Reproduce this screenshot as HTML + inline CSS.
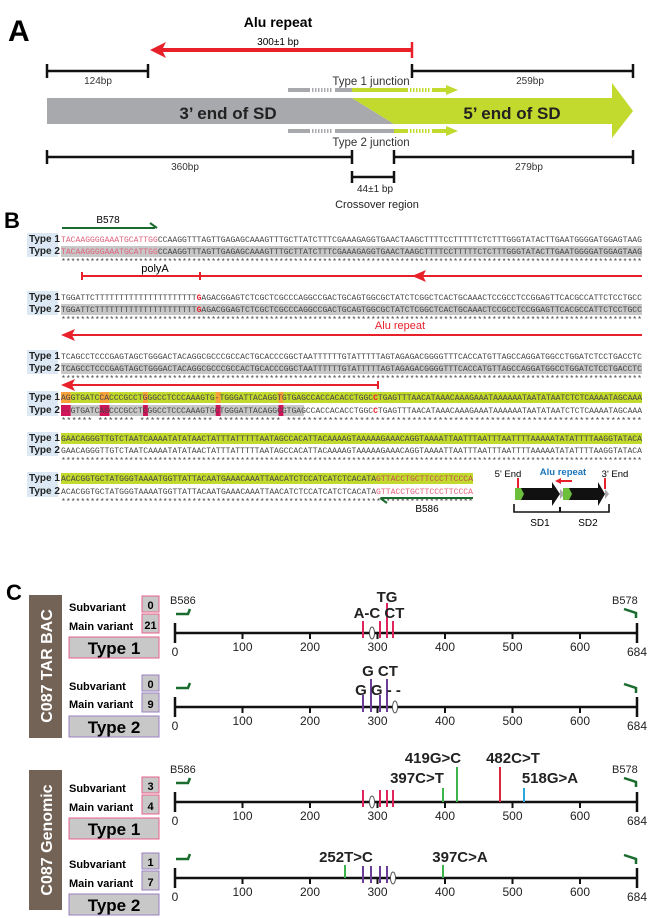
<!DOCTYPE html>
<html><head><meta charset="utf-8"><style>
html,body{margin:0;padding:0;background:#fff}
svg{display:block}
.s{font-family:"Liberation Mono",monospace;font-size:8.3px;fill:#444}
.lb{font-family:"Liberation Sans",sans-serif;font-size:10px;font-weight:bold;fill:#222}
.t{font-family:"Liberation Sans",sans-serif}
</style></head><body>
<svg width="650" height="918" viewBox="0 0 650 918" xmlns="http://www.w3.org/2000/svg">
<!-- PANEL A -->
<text x="8" y="41" class="t" font-size="30" font-weight="bold">A</text>
<text x="278" y="27" class="t" font-size="14" font-weight="bold" text-anchor="middle">Alu repeat</text>
<text x="278" y="45" class="t" font-size="10" text-anchor="middle">300±1 bp</text>
<line x1="160" y1="50" x2="412" y2="50" stroke="#e8202a" stroke-width="4"/>
<polygon points="150,50 166,42 162,50 166,58" fill="#e8202a"/>
<line x1="412" y1="42" x2="412" y2="58" stroke="#e8202a" stroke-width="2.5"/>
<g stroke="#111" stroke-width="2.5">
<line x1="47" y1="71" x2="148" y2="71"/><line x1="47" y1="64" x2="47" y2="78"/><line x1="148" y1="64" x2="148" y2="78"/>
<line x1="412" y1="71" x2="633" y2="71"/><line x1="412" y1="64" x2="412" y2="78"/><line x1="633" y1="64" x2="633" y2="78"/>
<line x1="47" y1="157" x2="352" y2="157"/><line x1="47" y1="150" x2="47" y2="164"/><line x1="352" y1="150" x2="352" y2="164"/>
<line x1="394" y1="157" x2="633" y2="157"/><line x1="394" y1="150" x2="394" y2="164"/><line x1="633" y1="150" x2="633" y2="164"/>
<line x1="352" y1="177" x2="394" y2="177"/><line x1="352" y1="171" x2="352" y2="183"/><line x1="394" y1="171" x2="394" y2="183"/>
</g>
<text x="98" y="84" class="t" font-size="10" text-anchor="middle" fill="#333">124bp</text>
<text x="530" y="84" class="t" font-size="10" text-anchor="middle" fill="#333">259bp</text>
<text x="185" y="170" class="t" font-size="10" text-anchor="middle" fill="#333">360bp</text>
<text x="529" y="170" class="t" font-size="10" text-anchor="middle" fill="#333">279bp</text>
<text x="375" y="192" class="t" font-size="10" text-anchor="middle" fill="#222">44±1 bp</text>
<text x="377" y="208" class="t" font-size="11" text-anchor="middle" fill="#222">Crossover region</text>
<g stroke-width="4">
<line x1="288" y1="90" x2="310" y2="90" stroke="#a7a9ac"/><line x1="312" y1="90" x2="333" y2="90" stroke="#a7a9ac" stroke-dasharray="1.5 1.5"/><line x1="335" y1="90" x2="352" y2="90" stroke="#a7a9ac"/>
<line x1="352" y1="90" x2="408" y2="90" stroke="#c2d92d"/><line x1="410" y1="90" x2="430" y2="90" stroke="#c2d92d" stroke-dasharray="1.5 1.5"/><line x1="432" y1="90" x2="450" y2="90" stroke="#c2d92d"/>
<line x1="288" y1="131" x2="310" y2="131" stroke="#a7a9ac"/><line x1="312" y1="131" x2="333" y2="131" stroke="#a7a9ac" stroke-dasharray="1.5 1.5"/><line x1="335" y1="131" x2="394" y2="131" stroke="#a7a9ac"/>
<line x1="394" y1="131" x2="408" y2="131" stroke="#c2d92d"/><line x1="410" y1="131" x2="430" y2="131" stroke="#c2d92d" stroke-dasharray="1.5 1.5"/><line x1="432" y1="131" x2="450" y2="131" stroke="#c2d92d"/>
</g>
<polygon points="446,85 458,90 446,95" fill="#c2d92d"/>
<polygon points="446,126 458,131 446,136" fill="#c2d92d"/>
<text x="371" y="85" class="t" font-size="11.5" text-anchor="middle" fill="#333">Type 1 junction</text>
<text x="371" y="146" class="t" font-size="11.5" text-anchor="middle" fill="#333">Type 2 junction</text>
<polygon points="47,98 352,98 394,124 47,124" fill="#a7a9ac"/>
<polygon points="352,98 612,98 612,83 633,111 612,138 612,124 394,124" fill="#c2d92d"/>
<text x="228" y="119" class="t" font-size="17" font-weight="bold" text-anchor="middle" fill="#222">3’ end of SD</text>
<text x="512" y="119" class="t" font-size="17" font-weight="bold" text-anchor="middle" fill="#222">5’ end of SD</text>

<!-- PANEL B -->
<text x="4" y="228" class="t" font-size="22" font-weight="bold">B</text>
<line x1="62" y1="228" x2="155" y2="228" stroke="#1a6b2e" stroke-width="2"/>
<polyline points="150,223 157,228" stroke="#1a6b2e" stroke-width="2" fill="none"/>
<text x="108" y="223" class="t" font-size="10" text-anchor="middle">B578</text>
<g fill="#dce9f5">
<rect x="27" y="233" width="31" height="24"/><rect x="27" y="291" width="31" height="24"/><rect x="27" y="350" width="31" height="24"/>
<rect x="27" y="391" width="31" height="25"/><rect x="27" y="432" width="31" height="24"/><rect x="27" y="472" width="31" height="25"/>
</g>
<g class="lb">
<text x="29" y="242">Type 1</text><text x="29" y="254">Type 2</text>
<text x="29" y="300">Type 1</text><text x="29" y="312">Type 2</text>
<text x="29" y="359">Type 1</text><text x="29" y="371">Type 2</text>
<text x="29" y="400">Type 1</text><text x="29" y="413">Type 2</text>
<text x="29" y="441">Type 1</text><text x="29" y="453">Type 2</text>
<text x="29" y="481">Type 1</text><text x="29" y="494">Type 2</text>
</g>
<g fill="#c8c8c8">
<rect x="61" y="246" width="581" height="11"/>
<rect x="61" y="304" width="581" height="11"/>
<rect x="61" y="363" width="581" height="11"/>
<rect x="61" y="405" width="243" height="11"/>
</g>
<g fill="#c2d92d">
<rect x="61" y="392" width="581" height="11"/>
<rect x="61" y="433" width="581" height="11"/>
<rect x="61" y="473" width="412" height="11"/>
</g>
<g fill="#f7a23b">
<rect x="61" y="392" width="9.7" height="11"/><rect x="99.7" y="392" width="9.7" height="11"/><rect x="143" y="392" width="4.9" height="11"/><rect x="215.7" y="392" width="4.9" height="11"/><rect x="278.5" y="392" width="4.9" height="11"/>
</g>
<g fill="#d0145a">
<rect x="61" y="405" width="9.7" height="11"/><rect x="99.7" y="405" width="9.7" height="11"/><rect x="143" y="405" width="4.9" height="11"/><rect x="215.7" y="405" width="4.9" height="11"/><rect x="278.5" y="405" width="4.9" height="11"/>
</g>
<g class="s">
<text x="61" y="242" textLength="581" lengthAdjust="spacingAndGlyphs"><tspan fill="#e0607a">TACAAGGGGAAATGCATTGG</tspan>CCAAGGTTTAGTTGAGAGCAAAGTTTGCTTATCTTTCGAAAGAGGTGAACTAAGCTTTTCCTTTTTCTCTTTGGGTATACTTGAATGGGGATGGAGTAAG</text>
<text x="61" y="254" textLength="581" lengthAdjust="spacingAndGlyphs"><tspan fill="#e0607a">TACAAGGGGAAATGCATTGG</tspan>CCAAGGTTTAGTTGAGAGCAAAGTTTGCTTATCTTTCGAAAGAGGTGAACTAAGCTTTTCCTTTTTCTCTTTGGGTATACTTGAATGGGGATGGAGTAAG</text>
<text x="61" y="264" textLength="581" lengthAdjust="spacingAndGlyphs">************************************************************************************************************************</text>
<text x="61" y="300" textLength="581" lengthAdjust="spacingAndGlyphs">TGGATTCTTTTTTTTTTTTTTTTTTTTT<tspan fill="#e8202a" font-weight="bold">G</tspan>AGACGGAGTCTCGCTCGCCCAGGCCGACTGCAGTGGCGCTATCTCGGCTCACTGCAAACTCCGCCTCCGGAGTTCACGCCATTCTCCTGCC</text>
<text x="61" y="312" textLength="581" lengthAdjust="spacingAndGlyphs">TGGATTCTTTTTTTTTTTTTTTTTTTTT<tspan fill="#e8202a" font-weight="bold">G</tspan>AGACGGAGTCTCGCTCGCCCAGGCCGACTGCAGTGGCGCTATCTCGGCTCACTGCAAACTCCGCCTCCGGAGTTCACGCCATTCTCCTGCC</text>
<text x="61" y="322" textLength="581" lengthAdjust="spacingAndGlyphs">************************************************************************************************************************</text>
<text x="61" y="359" textLength="581" lengthAdjust="spacingAndGlyphs">TCAGCCTCCCGAGTAGCTGGGACTACAGGCGCCCGCCACTGCACCCGGCTAATTTTTTGTATTTTTAGTAGAGACGGGGTTTCACCATGTTAGCCAGGATGGCCTGGATCTCCTGACCTC</text>
<text x="61" y="371" textLength="581" lengthAdjust="spacingAndGlyphs">TCAGCCTCCCGAGTAGCTGGGACTACAGGCGCCCGCCACTGCACCCGGCTAATTTTTTGTATTTTTAGTAGAGACGGGGTTTCACCATGTTAGCCAGGATGGCCTGGATCTCCTGACCTC</text>
<text x="61" y="381" textLength="581" lengthAdjust="spacingAndGlyphs">************************************************************************************************************************</text>
<text x="61" y="400" textLength="581" lengthAdjust="spacingAndGlyphs">AGGTGATCCACCCGCCTGGGCCTCCCAAAGTG-TGGGATTACAGGTGTGAGCCACCACACCTGGC<tspan fill="#e8202a" font-weight="bold">C</tspan>TGAGTTTAACATAAACAAAGAAATAAAAAATAATATAATCTCTCAAAATAGCAAA</text>
<text x="61" y="413" textLength="581" lengthAdjust="spacingAndGlyphs">--GTGATCAGCCCGCCTCGGCCTCCCAAAGTGCTGGGATTACAGGCGTGAGCCACCACACCTGGC<tspan fill="#e8202a" font-weight="bold">C</tspan>TGAGTTTAACATAAACAAAGAAATAAAAAATAATATAATCTCTCAAAATAGCAAA</text>
<text x="61" y="423" textLength="581" lengthAdjust="spacingAndGlyphs">  ******  *******  ************** ************ ********************************************************************</text>
<text x="61" y="441" textLength="581" lengthAdjust="spacingAndGlyphs">GAACAGGGTTGTCTAATCAAAATATATAACTATTTATTTTTAATAGCCACATTACAAAAGTAAAAAGAAACAGGTAAAATTAATTTAATTTAATTTTAAAAATATATTTTAAGGTATACA</text>
<text x="61" y="453" textLength="581" lengthAdjust="spacingAndGlyphs">GAACAGGGTTGTCTAATCAAAATATATAACTATTTATTTTTAATAGCCACATTACAAAAGTAAAAAGAAACAGGTAAAATTAATTTAATTTAATTTTAAAAATATATTTTAAGGTATACA</text>
<text x="61" y="463" textLength="581" lengthAdjust="spacingAndGlyphs">************************************************************************************************************************</text>
<text x="61" y="481" textLength="412" lengthAdjust="spacingAndGlyphs">ACACGGTGCTATGGGTAAAATGGTTATTACAATGAAACAAATTAACATCTCCATCATCTCACATA<tspan fill="#c0504d">GTTACCTGCTTCCCTTCCCA</tspan></text>
<text x="61" y="494" textLength="412" lengthAdjust="spacingAndGlyphs">ACACGGTGCTATGGGTAAAATGGTTATTACAATGAAACAAATTAACATCTCCATCATCTCACATA<tspan fill="#e0607a">GTTACCTGCTTCCCTTCCCA</tspan></text>
<text x="61" y="504" textLength="412" lengthAdjust="spacingAndGlyphs">*************************************************************************************</text>
</g>
<g stroke="#e8202a" stroke-width="2" fill="none">
<line x1="82" y1="276" x2="642" y2="276"/><line x1="82" y1="272" x2="82" y2="280"/><line x1="200" y1="272" x2="200" y2="280"/>
<line x1="66" y1="335" x2="642" y2="335"/>
<line x1="66" y1="385" x2="378" y2="385"/><line x1="378" y1="381" x2="378" y2="389"/>
</g>
<polygon points="412,276 426,270 423,276 426,282" fill="#e8202a"/>
<polygon points="61,335 75,329 72,335 75,341" fill="#e8202a"/>
<polygon points="61,385 75,379 72,385 75,391" fill="#e8202a"/>
<text x="155" y="272" class="t" font-size="11" text-anchor="middle">polyA</text>
<text x="400" y="329" class="t" font-size="11" text-anchor="middle" fill="#e8202a">Alu repeat</text>
<line x1="381" y1="498" x2="473" y2="498" stroke="#1a6b2e" stroke-width="2"/>
<polyline points="387,503 380,498" stroke="#1a6b2e" stroke-width="2" fill="none"/>
<text x="427" y="512" class="t" font-size="10" text-anchor="middle">B586</text>
<text x="508" y="477" class="t" font-size="9.5" text-anchor="middle">5' End</text>
<text x="563" y="475" class="t" font-size="9.5" font-weight="bold" text-anchor="middle" fill="#1b75bc">Alu repeat</text>
<text x="615" y="477" class="t" font-size="9.5" text-anchor="middle">3' End</text>
<line x1="518" y1="478" x2="518" y2="488" stroke="#e8202a" stroke-width="2"/>
<line x1="605" y1="478" x2="605" y2="489" stroke="#e8202a" stroke-width="2"/>
<line x1="559" y1="481" x2="572" y2="481" stroke="#e8202a" stroke-width="2"/>
<polygon points="555,481 561,478 561,484" fill="#e8202a"/>
<polygon points="515,488 552,488 552,482 560,494 552,506 552,500 515,500" fill="#111"/>
<polygon points="515,488 521,488 524,494 521,500 515,500" fill="#6cbf3a"/>
<polygon points="560,489 565,494 560,499" fill="#aaa"/>
<polygon points="563,488 598,488 598,482 605,494 598,506 598,500 563,500" fill="#111"/>
<polygon points="563,488 569,488 572,494 569,500 563,500" fill="#6cbf3a"/>
<polygon points="605,489 609,494 605,499" fill="#aaa"/>
<polyline points="514,504 514,512 609,512 609,504" stroke="#111" stroke-width="1.6" fill="none"/>
<line x1="560" y1="507" x2="560" y2="512" stroke="#111" stroke-width="2"/>
<text x="540" y="526" class="t" font-size="10" text-anchor="middle">SD1</text>
<text x="588" y="526" class="t" font-size="10" text-anchor="middle">SD2</text>

<!-- PANEL C -->
<text x="6" y="600" class="t" font-size="22" font-weight="bold">C</text>
<rect x="29" y="595" width="33" height="143" fill="#736357"/>
<text transform="translate(52,666) rotate(-90)" class="t" font-size="16" font-weight="bold" fill="#fff" text-anchor="middle">C087  TAR BAC</text>
<rect x="29" y="770" width="33" height="140" fill="#736357"/>
<text transform="translate(52,840) rotate(-90)" class="t" font-size="16" font-weight="bold" fill="#fff" text-anchor="middle">C087 Genomic</text>

<g class="t" font-weight="bold">
<text x="69" y="611" font-size="11">Subvariant</text><text x="69" y="630" font-size="11">Main variant</text>
<rect x="142" y="596" width="17" height="16" fill="#c8c8c8" stroke="#e8628a"/><text x="150.5" y="609" font-size="11" text-anchor="middle">0</text>
<rect x="142" y="614" width="17" height="19" fill="#c8c8c8" stroke="#e8628a"/><text x="150.5" y="629" font-size="11" text-anchor="middle">21</text>
<rect x="69" y="637" width="90" height="21" fill="#c8c8c8" stroke="#e8628a"/><text x="114" y="654" font-size="17" text-anchor="middle">Type 1</text>

<text x="69" y="690" font-size="11">Subvariant</text><text x="69" y="708" font-size="11">Main variant</text>
<rect x="142" y="675" width="17" height="16" fill="#c8c8c8" stroke="#9b7fc0"/><text x="150.5" y="688" font-size="11" text-anchor="middle">0</text>
<rect x="142" y="693" width="17" height="19" fill="#c8c8c8" stroke="#9b7fc0"/><text x="150.5" y="708" font-size="11" text-anchor="middle">9</text>
<rect x="69" y="716" width="90" height="21" fill="#c8c8c8" stroke="#9b7fc0"/><text x="114" y="733" font-size="17" text-anchor="middle">Type 2</text>

<text x="69" y="792" font-size="11">Subvariant</text><text x="69" y="811" font-size="11">Main variant</text>
<rect x="142" y="777" width="17" height="16" fill="#c8c8c8" stroke="#e8628a"/><text x="150.5" y="790" font-size="11" text-anchor="middle">3</text>
<rect x="142" y="795" width="17" height="19" fill="#c8c8c8" stroke="#e8628a"/><text x="150.5" y="810" font-size="11" text-anchor="middle">4</text>
<rect x="69" y="818" width="90" height="21" fill="#c8c8c8" stroke="#e8628a"/><text x="114" y="835" font-size="17" text-anchor="middle">Type 1</text>

<text x="69" y="868" font-size="11">Subvariant</text><text x="69" y="887" font-size="11">Main variant</text>
<rect x="142" y="853" width="17" height="16" fill="#c8c8c8" stroke="#9b7fc0"/><text x="150.5" y="866" font-size="11" text-anchor="middle">1</text>
<rect x="142" y="871" width="17" height="19" fill="#c8c8c8" stroke="#9b7fc0"/><text x="150.5" y="886" font-size="11" text-anchor="middle">7</text>
<rect x="69" y="894" width="90" height="21" fill="#c8c8c8" stroke="#9b7fc0"/><text x="114" y="911" font-size="17" text-anchor="middle">Type 2</text>
</g>

<g stroke="#111">
<g stroke-width="2.5">
<line x1="175" y1="633" x2="637" y2="633"/><line x1="175" y1="623" x2="175" y2="643"/><line x1="637" y1="623" x2="637" y2="643"/>
<line x1="175" y1="707" x2="637" y2="707"/><line x1="175" y1="697" x2="175" y2="717"/><line x1="637" y1="697" x2="637" y2="717"/>
<line x1="175" y1="802" x2="637" y2="802"/><line x1="175" y1="792" x2="175" y2="812"/><line x1="637" y1="792" x2="637" y2="812"/>
<line x1="175" y1="878" x2="637" y2="878"/><line x1="175" y1="868" x2="175" y2="888"/><line x1="637" y1="868" x2="637" y2="888"/>
</g>
<g stroke-width="2">
<path d="M242.5,633v6M310,633v6M377.5,633v6M445,633v6M512.5,633v6M580,633v6"/>
<path d="M242.5,707v6M310,707v6M377.5,707v6M445,707v6M512.5,707v6M580,707v6"/>
<path d="M242.5,802v6M310,802v6M377.5,802v6M445,802v6M512.5,802v6M580,802v6"/>
<path d="M242.5,878v6M310,878v6M377.5,878v6M445,878v6M512.5,878v6M580,878v6"/>
</g>
</g>
<g class="t" font-size="12" fill="#222" text-anchor="middle">
<text x="175" y="656">0</text><text x="242.5" y="651">100</text><text x="310" y="651">200</text><text x="377.5" y="651">300</text><text x="445" y="651">400</text><text x="512.5" y="651">500</text><text x="580" y="651">600</text><text x="637" y="656">684</text>
<text x="175" y="730">0</text><text x="242.5" y="725">100</text><text x="310" y="725">200</text><text x="377.5" y="725">300</text><text x="445" y="725">400</text><text x="512.5" y="725">500</text><text x="580" y="725">600</text><text x="637" y="730">684</text>
<text x="175" y="825">0</text><text x="242.5" y="820">100</text><text x="310" y="820">200</text><text x="377.5" y="820">300</text><text x="445" y="820">400</text><text x="512.5" y="820">500</text><text x="580" y="820">600</text><text x="637" y="825">684</text>
<text x="175" y="901">0</text><text x="242.5" y="896">100</text><text x="310" y="896">200</text><text x="377.5" y="896">300</text><text x="445" y="896">400</text><text x="512.5" y="896">500</text><text x="580" y="896">600</text><text x="637" y="901">684</text>
</g>
<g class="t" font-size="11" fill="#222">
<text x="170" y="604">B586</text><text x="612" y="604">B578</text>
<text x="170" y="773">B586</text><text x="612" y="773">B578</text>
</g>
<g stroke="#1a6b2e" stroke-width="2.5" fill="none">
<polyline points="176,614 188,614 190,609"/><polyline points="624,609 636,613 636,618"/>
<polyline points="176,688 188,688 190,683"/><polyline points="624,684 636,688 636,693"/>
<polyline points="176,783 188,783 190,778"/><polyline points="624,778 636,782 636,787"/>
<polyline points="176,859 188,859 190,854"/><polyline points="624,855 636,859 636,864"/>
</g>
<g stroke="#e0245e" stroke-width="2">
<path d="M363,621v17M380,621v17M387,603v35M393,621v17"/>
<path d="M363,790v17M380,790v17M387,790v17M393,790v17"/>
</g>
<g stroke="#6a3d9a" stroke-width="2">
<path d="M363,695v17M371,679v33M380,695v17M387,679v33"/>
<path d="M363,866v17M371,866v17M380,866v17M387,866v17"/>
</g>
<g fill="#fff" stroke="#555" stroke-width="1">
<ellipse cx="372" cy="633" rx="2.5" ry="6"/><ellipse cx="395" cy="707" rx="2.5" ry="6"/>
<ellipse cx="372" cy="802" rx="2.5" ry="6"/><ellipse cx="393" cy="878" rx="2.5" ry="6"/>
</g>
<g class="t" font-size="15" font-weight="bold" fill="#222" text-anchor="middle">
<text x="387" y="602">TG</text><text x="379" y="618">A-C CT</text>
<text x="380" y="676">G CT</text><text x="378" y="695">G G - -</text>
<text x="433" y="763">419G&gt;C</text><text x="513" y="763">482C&gt;T</text>
<text x="417" y="783">397C&gt;T</text><text x="550" y="783">518G&gt;A</text>
<text x="346" y="862">252T&gt;C</text><text x="460" y="862">397C&gt;A</text>
</g>
<g stroke-width="2">
<line x1="443" y1="788" x2="443" y2="802" stroke="#3cb44b"/>
<line x1="457" y1="767" x2="457" y2="802" stroke="#3cb44b"/>
<line x1="500" y1="767" x2="500" y2="802" stroke="#d7263d"/>
<line x1="524" y1="788" x2="524" y2="802" stroke="#29a8e0"/>
<line x1="345" y1="865" x2="345" y2="878" stroke="#3cb44b"/>
<line x1="443" y1="865" x2="443" y2="878" stroke="#3cb44b"/>
</g>
</svg>
</body></html>
